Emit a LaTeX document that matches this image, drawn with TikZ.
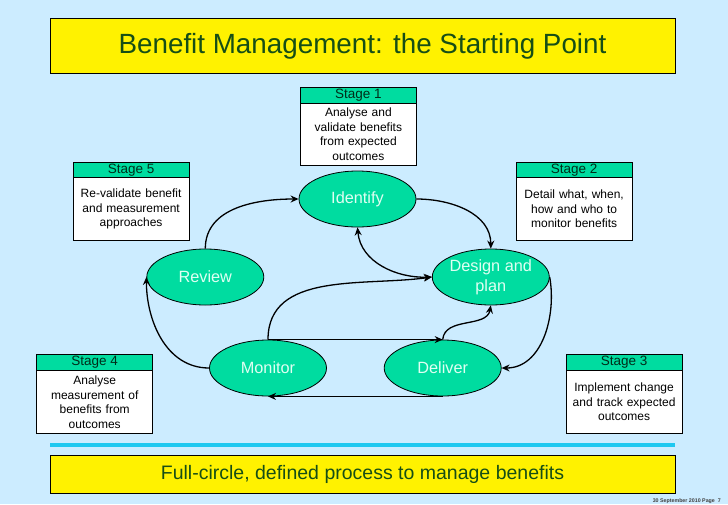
\documentclass[tikz,border=0pt]{standalone}
\usepackage{fontspec}
\setmainfont{Liberation Sans}
\usetikzlibrary{shapes.geometric,arrows.meta}
\definecolor{bgblue}{RGB}{204,236,255}
\definecolor{ttgreen}{RGB}{0,220,160}
\definecolor{titlegreen}{RGB}{22,78,22}
\definecolor{paletxt}{RGB}{222,255,242}
\definecolor{linecyan}{RGB}{30,200,240}
\definecolor{headtxt}{RGB}{0,45,25}
\tikzset{
  stage/.style={ellipse, draw=black, line width=0.8pt, fill=ttgreen, minimum width=117pt, minimum height=56pt, inner sep=0pt, text=paletxt, align=center, font=\fontsize{16.3}{19.7}\selectfont},
  stagehead/.style={draw=black, line width=0.8pt, fill=ttgreen, minimum width=116pt, minimum height=15.5pt, inner sep=0pt, anchor=north west, text=headtxt, font=\fontsize{13.5}{15}\selectfont},
  stagebody/.style={draw=black, line width=0.8pt, fill=white, minimum width=116pt, text width=112pt, inner sep=0pt, anchor=north west, align=center, font=\fontsize{12}{14.5}\selectfont},
  banner/.style={draw=black, line width=0.8pt, fill=yellow, minimum width=625pt, inner sep=0pt, text=titlegreen},
  conn/.style={black, line width=1.3pt, -{Stealth[length=8pt,width=7pt]}},
  conn2/.style={black, line width=1.3pt, {Stealth[length=8pt,width=7pt]}-{Stealth[length=8pt,width=7pt]}},
}
\begin{document}
\begin{tikzpicture}[x=1pt,y=-1pt]
\fill[bgblue] (0,0) rectangle (728,504);
\useasboundingbox (0,0) rectangle (728,504);
% title and bottom banners
\node[banner, minimum height=55.7pt, font=\fontsize{27.8}{30}\selectfont] (title) at (362.5,45.85) {Benefit Management: the Starting Point};
\fill[linecyan] (50,442.7) rectangle (675,446.7);
\node[banner, minimum height=38.3pt, font=\fontsize{19.5}{22}\selectfont] (foot) at (362.5,474.2) {Full-circle, defined process to manage benefits};
\node[anchor=east, inner sep=0pt, font=\fontsize{5.3}{6}\selectfont\bfseries, text=black!75] (page) at (721,501) {30 September 2010 Page\ \ 7};
% stage boxes
\node[stagehead] (s1h) at (300,87.3) {Stage 1};
\node[stagebody, minimum height=62.3pt] (s1b) at (300,102.7) {Analyse and\\validate benefits\\from expected\\outcomes};
\node[stagehead] (s5h) at (72.7,162.3) {Stage 5};
\node[stagebody, minimum height=63pt] (s5b) at (72.7,177.3) {Re-validate benefit\\and measurement\\approaches};
\node[stagehead] (s2h) at (515.7,162.3) {Stage 2};
\node[stagebody, minimum height=63pt] (s2b) at (515.7,177.3) {Detail what, when,\\how and who to\\monitor benefits};
\node[stagehead] (s4h) at (36.3,354.3) {Stage 4};
\node[stagebody, minimum height=63.3pt] (s4b) at (36.3,370) {Analyse\\measurement of\\benefits from\\outcomes};
\node[stagehead] (s3h) at (565.7,354.3) {Stage 3};
\node[stagebody, minimum height=63.3pt] (s3b) at (565.7,370) {Implement change\\and track expected\\outcomes};
% process ellipses
\node[stage] (identify) at (357.5,199) {Identify};
\node[stage] (review) at (205.3,277) {Review};
\node[stage] (design) at (490.8,277) {Design and\\plan};
\node[stage] (monitor) at (268,368) {Monitor};
\node[stage] (deliver) at (442.7,368) {Deliver};
% connectors
\draw[conn] (review.north) to[out=90,in=180] (identify.west);
\draw[conn] (identify.east) to[out=0,in=90] (design.north);
\draw[conn2] (identify.south) to[out=-85,in=182] (design.west);
\draw[conn] (monitor.north) to[out=90,in=188] (design.west);
\draw[conn] (monitor.north) -- (deliver.north);
\draw[conn] (deliver.north) to[out=85,in=-100] (design.south);
\draw[conn] (design.east) to[out=-80,in=0] (deliver.east);
\draw[conn] (deliver.south) -- (monitor.south);
\draw[conn] (monitor.west) to[out=180,in=-90] (review.west);
\end{tikzpicture}
\end{document}
